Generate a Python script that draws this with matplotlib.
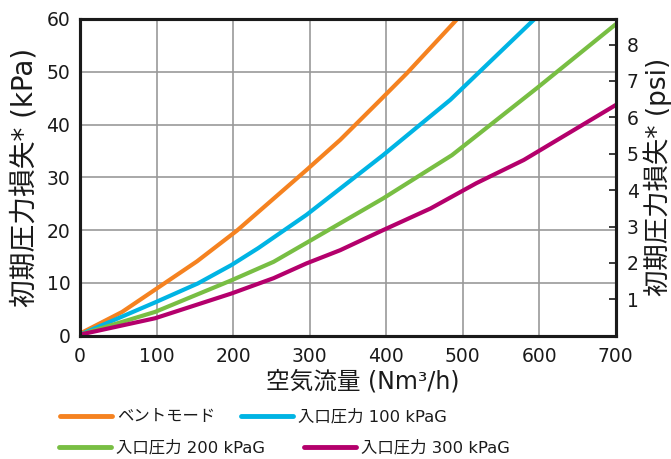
import matplotlib
matplotlib.use("Agg")
import matplotlib.pyplot as plt
from matplotlib.lines import Line2D

# Data
vent_x = [0, 55, 153, 205, 296, 340, 392, 427, 493]
vent_y = [0.4, 4.5, 14.1, 19.9, 31.4, 37.1, 44.6, 49.7, 60.0]

p100_x = [0, 98, 154, 198, 233, 296, 396, 484, 594]
p100_y = [0.2, 6.3, 9.9, 13.4, 16.6, 22.9, 34.2, 44.7, 60.0]

p200_x = [0, 98, 198, 253, 296, 396, 486, 597, 700]
p200_y = [0.2, 4.5, 10.5, 14.0, 17.6, 26.0, 34.2, 46.9, 59.0]

p300_x = [0, 98, 198, 253, 296, 340, 396, 458, 518, 580, 700]
p300_y = [0.2, 3.3, 8.0, 10.9, 13.7, 16.2, 20.0, 24.1, 28.9, 33.3, 43.7]

labels = ["ベントモード", "入口圧力 100 kPaG", "入口圧力 200 kPaG", "入口圧力 300 kPaG"]
colors = ["#F58220", "#00B4E4", "#78BE43", "#B4006C"]

x_ticks = [0, 100, 200, 300, 400, 500, 600, 700]
y_ticks = [0, 10, 20, 30, 40, 50, 60]
psi_ticks = [1, 2, 3, 4, 5, 6, 7, 8]
KPA_PER_PSI = 6.89476

CJK = ["DejaVu Sans", "Noto Sans CJK JP"]
NUM = ["DejaVu Sans"]

fig = plt.figure(figsize=(6.71, 4.59), dpi=100)
ax = fig.add_axes([80/671, 1-335.7/459, (615.7-80)/671, (335.7-19)/459])

series = [(vent_x, vent_y), (p100_x, p100_y), (p200_x, p200_y), (p300_x, p300_y)]
for (xs, ys), c in zip(series, colors):
    ax.plot(xs, ys, color=c, lw=3.0, solid_capstyle="round", zorder=3)

ax.set_xlim(0, 700)
ax.set_ylim(0, 60)
ax.set_xticks(x_ticks)
ax.set_yticks(y_ticks)
ax.grid(True, color="#999999", lw=1.2, zorder=0)
ax.tick_params(axis="both", length=0, labelsize=13.5, colors="#1a1a1a")
ax.tick_params(axis="x", pad=8)
ax.tick_params(axis="y", pad=7)
for lab in ax.get_xticklabels() + ax.get_yticklabels():
    lab.set_family(NUM)
for s in ax.spines.values():
    s.set_linewidth(2.2)
    s.set_color("#1a1a1a")

ax.set_ylabel("初期圧力損失* (kPa)", family=CJK, fontsize=20, color="#1a1a1a")
ax.yaxis.set_label_coords(-0.102, 0.5)
ax.yaxis.label.set_va("center")
ax.set_xlabel("空気流量 (Nm³/h)", family=CJK, fontsize=17, color="#1a1a1a")
ax.xaxis.set_label_coords(0.528, -0.145)
ax.xaxis.label.set_va("center")

ax2 = ax.twinx()
ax2.set_ylim(0, 60 / KPA_PER_PSI)
ax2.set_yticks(psi_ticks)
ax2.tick_params(axis="y", direction="in", length=5, width=1.2, labelsize=13.5,
                pad=8, colors="#1a1a1a")
for lab in ax2.get_yticklabels():
    lab.set_family(NUM)
for s in ax2.spines.values():
    s.set_linewidth(2.2)
    s.set_color("#1a1a1a")
ax2.set_ylabel("初期圧力損失* (psi)", family=CJK, fontsize=19, color="#1a1a1a")
ax2.yaxis.set_label_coords(1.079, 0.5)
ax2.yaxis.label.set_va("center")

# legend entries placed individually
pos = [(60, 417), (241, 417), (59, 448), (304, 448)]
for lab, c, (px, py) in zip(labels, colors, pos):
    h = Line2D([], [], color=c, lw=3.5, solid_capstyle="round")
    fig.legend([h], [lab], loc="center left",
               bbox_to_anchor=(px/671, 1-py/459), frameon=False,
               borderpad=0, borderaxespad=0, handlelength=3.15,
               handletextpad=0.35, prop={"family": CJK, "size": 11.8},
               labelcolor="#1a1a1a")

fig.savefig("out.png", dpi=100)
